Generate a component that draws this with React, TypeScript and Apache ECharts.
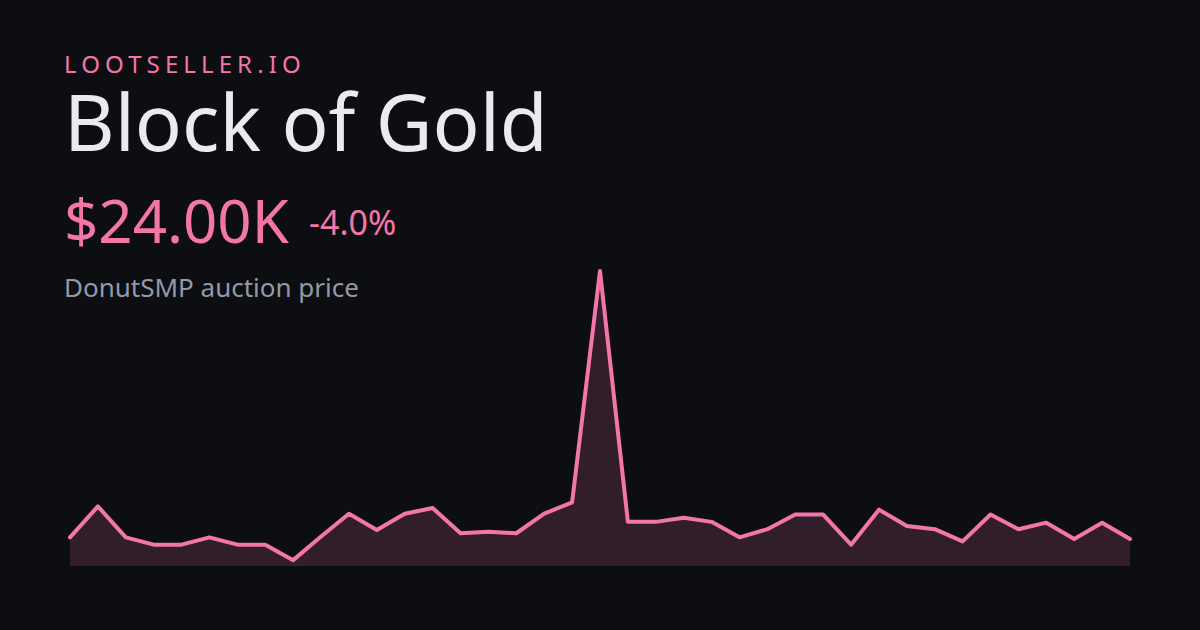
import * as echarts from "echarts";
import { useEffect, useRef } from "react";

const BRAND = "LOOTSELLER.IO";
const ITEM = "Block of Gold";
const PRICE = "$24.00K";
const CHANGE = "-4.0%";
const CAPTION = "DonutSMP auction price";

// price in thousands
const prices = [
  24.1, 26.0, 24.1, 23.65, 23.65, 24.1, 23.65, 23.65, 22.7, 24.15, 25.55, 24.55,
  25.55, 25.9, 24.35, 24.45, 24.35, 25.55, 26.25, 40.45, 25.05, 25.05, 25.3, 25.05,
  24.1, 24.6, 25.5, 25.5, 23.65, 25.8, 24.8, 24.6, 23.85, 25.5, 24.6, 25.0, 24.0,
  25.0, 24.0,
];
const days = prices.map((_, i) => String(i));

const FONT = "'Noto Sans', sans-serif";
const PINK = "#f476a9";

const App = () => {
  const containerRef = useRef<HTMLDivElement>(null);

  useEffect(() => {
    if (!containerRef.current) return;
    const chart = echarts.init(containerRef.current, null, { renderer: "svg" });
    chart.setOption({
      animation: false,
      backgroundColor: "#0c0e12",
      grid: { left: 70, right: 70, top: 271, bottom: 64 },
      xAxis: { type: "category", data: days, boundaryGap: false, show: false },
      yAxis: { type: "value", min: 22.34, max: 40.45, show: false },
      series: [
        {
          type: "line",
          data: prices,
          symbol: "none",
          clip: false,
          lineStyle: { color: PINK, width: 4, cap: "round", join: "round" },
          areaStyle: { color: PINK, opacity: 0.16 },
        },
      ],
      graphic: [
        {
          type: "text",
          x: 64,
          y: 51,
          style: { text: BRAND, fill: PINK, font: `24px ${FONT}` },
        },
        {
          type: "text",
          x: 64,
          y: 82,
          style: { text: ITEM, fill: "#e9ebef", font: `78px ${FONT}` },
        },
        {
          type: "text",
          x: 64,
          y: 190,
          style: { text: PRICE, fill: PINK, font: `60px ${FONT}` },
        },
        {
          type: "text",
          x: 309,
          y: 205,
          style: { text: CHANGE, fill: PINK, font: `34px ${FONT}` },
        },
        {
          type: "text",
          x: 64,
          y: 274,
          style: { text: CAPTION, fill: "#9598a9", font: `26px ${FONT}` },
        },
      ],
    });

    // zrender text has no letter spacing option
    containerRef.current.querySelectorAll("text").forEach((el) => {
      if (el.textContent === BRAND) el.style.letterSpacing = "5.1px";
    });

    return () => chart.dispose();
  }, []);

  return (
    <div
      ref={containerRef}
      style={{ position: "absolute", left: 0, top: 0, width: 1200, height: 630 }}
    />
  );
};

export default App;
